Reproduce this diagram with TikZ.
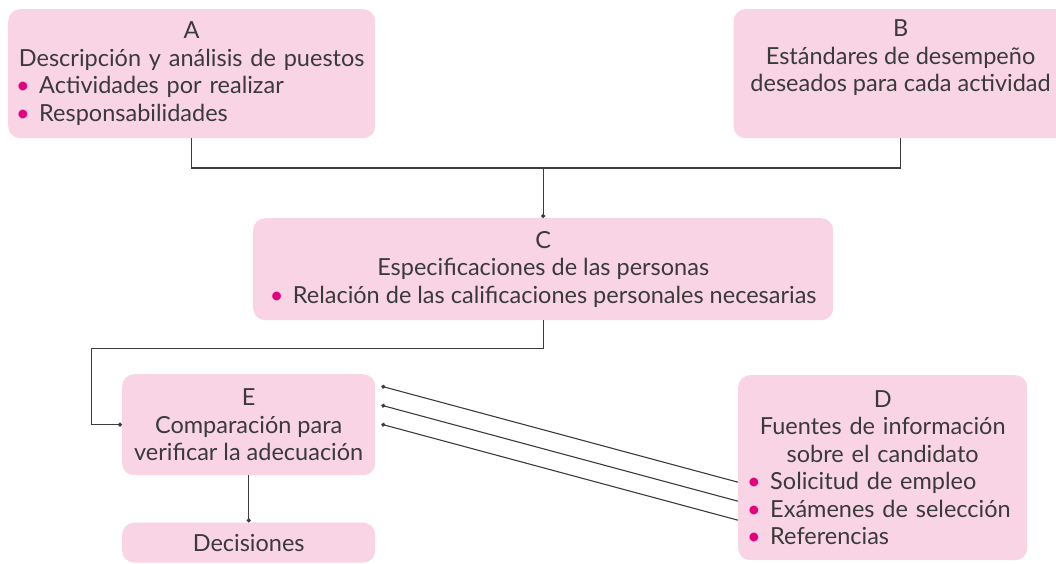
\documentclass[tikz,border=0pt]{standalone}
\usepackage{fontspec}
\setmainfont{Lato}
\usetikzlibrary{calc,arrows.meta}

\definecolor{boxpink}{HTML}{F8D4E4}
\definecolor{dotpink}{HTML}{E5007D}
\definecolor{inkgray}{HTML}{3A3A3A}
\definecolor{linegray}{HTML}{3C3C3C}
\newcommand{\bul}{\textcolor{dotpink}{\textbullet}\hspace{0.4em}}

\begin{document}
\begin{tikzpicture}[x=1pt,y=-1pt,object/.style={fill=boxpink,rounded corners=12pt,inner sep=0pt,text=inkgray,font=\fontsize{23.5}{27.5}\selectfont,anchor=north west},link/.style={linegray,line width=1.1pt}, arrow/.style={link,-{Circle[length=4pt]}}]
  \useasboundingbox (0,0) rectangle (1056,563);

  \node[object,minimum width=367pt,minimum height=129pt,text width=351pt,align=left] (a) at (8,9) {{\centering A\\Descripción y análisis de puestos\par}\bul Actividades por realizar\\\bul Responsabilidades};
  \node[object,minimum width=334pt,minimum height=129pt,align=center] (b) at ($ (a.north east) + (358,0) $) {B\\Estándares de desempeño\\deseados para cada actividad\\\strut};

  \node[object,minimum width=580pt,minimum height=102pt,align=center] (c) at (253,218) {C\\Especificaciones de las personas\\\bul Relación de las calificaciones personales necesarias};

  \node[object,minimum width=253pt,minimum height=101pt,align=center] (e) at (122,374) {E\\Comparación para\\verificar la adecuación};
  \node[object,minimum width=253pt,minimum height=40pt] (dec) at ($ (e.south west) + (0,47) $) {Decisiones};

  \node[object,minimum width=289pt,minimum height=185pt,text width=271pt,align=left] (d) at (738,375) {{\centering D\\Fuentes de información\\sobre el candidato\par}\bul Solicitud de empleo\\\bul Exámenes de selección\\\bul Referencias};

  \coordinate (join) at ($ (c.north) + (0,-50) $);
  \coordinate (bend) at ($ (c.south) + (-452,28) $);

  \draw[link] (b.south) |- (join);
  \draw[arrow] (a.south) |- (join) -- (c.north);

  \draw[arrow] (c.south) |- (bend) |- (e.west);
  \draw[arrow] (e.south) -- (dec.north);

  \foreach \i in {0,1,2}
    \draw[arrow] ($ (d.west) + (0,14.5+19*\i) $) -- ($ (e.east) + (6,-38.5+19*\i) $);
\end{tikzpicture}
\end{document}
